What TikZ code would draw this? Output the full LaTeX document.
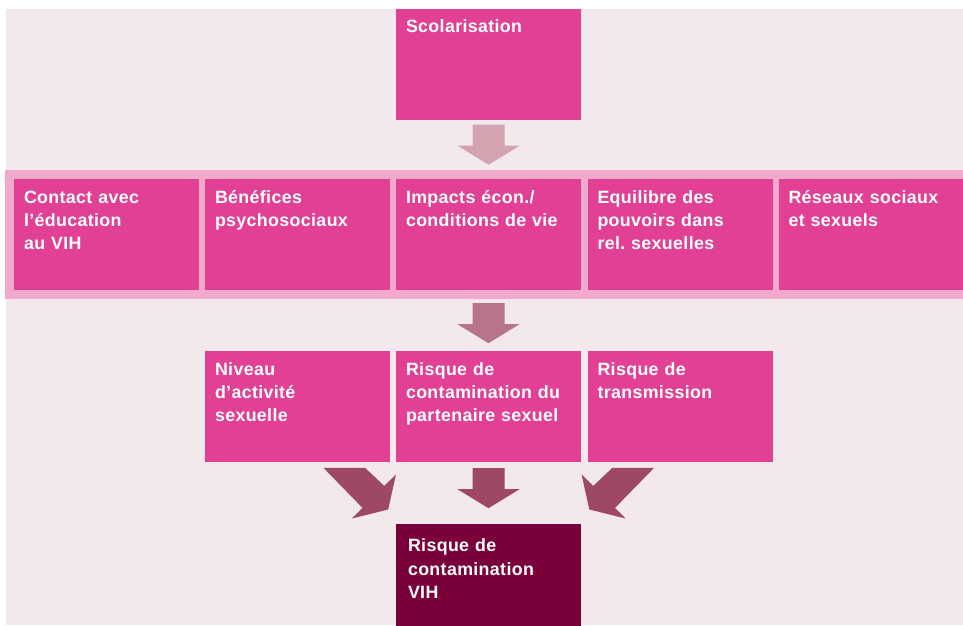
\documentclass[tikz,border=0pt]{standalone}
\usepackage{fontspec}
\setmainfont{Liberation Sans}[LetterSpace=2]
\usetikzlibrary{positioning}
\definecolor{bgrose}{RGB}{243,232,235}
\definecolor{bandrose}{RGB}{241,170,203}
\definecolor{boxrose}{RGB}{226,64,148}
\definecolor{arrowA}{RGB}{212,163,176}
\definecolor{arrowB}{RGB}{184,116,138}
\definecolor{arrowC}{RGB}{158,71,102}
\definecolor{vihred}{RGB}{122,0,58}
\frenchspacing
\tikzstyle{block} = [rectangle, fill=boxrose, text=white, text width=165pt,
    inner xsep=10pt, inner ysep=0pt, text height=24pt, text depth=87pt,
    align=left, font=\fontsize{17.8}{23.3}\selectfont\bfseries]
\newcommand{\downarrowat}[3]{%
  \fill[#1, shift={(#2)}, shift={(0,#3)}] (-16,0) -- (16,0) -- (16,21) -- (31,21)
    -- (0,40) -- (-31,21) -- (-16,21) -- cycle;}
\newcommand{\slantarrow}[3]{%
  \fill[#1, shift={(#2)}, xscale=#3] (-66.7,5.7) -- (-25,5.7) -- (-6,23.7) -- (5.7,12.3)
    -- (-2,47.3) -- (-38.3,56.3) -- (-27.7,45.7) -- cycle;}

\begin{document}
\begin{tikzpicture}[x=1pt, y=-1pt]
		\useasboundingbox (0,0) rectangle (963,625);
		\fill[bgrose] (6,9) rectangle (963,625);
		\fill[bandrose] (5,170) rectangle (964,299);

		\node [block] (scol) at (488.5,64) {Scolarisation};
		\node [block, node distance=170.5pt, below of=scol] (impacts) {Impacts écon./\\conditions de vie};
		\node [block, node distance=191pt, left of=impacts] (benef) {Bénéfices\\psychosociaux};
		\node [block, node distance=191pt, left of=benef] (contact) {Contact avec\\l’éducation\\au VIH};
		\node [block, node distance=191.5pt, right of=impacts] (pouvoirs) {Equilibre des\\pouvoirs dans\\rel. sexuelles};
		\node [block, node distance=191pt, right of=pouvoirs] (reseaux) {Réseaux sociaux\\et sexuels};
		\node [block, node distance=172pt, below of=impacts] (partenaire) {Risque de\\contamination du\\partenaire sexuel};
		\node [block, node distance=191pt, left of=partenaire] (niveau) {Niveau\\d’activité\\sexuelle};
		\node [block, node distance=191.5pt, right of=partenaire] (transm) {Risque de\\transmission};
		\node [block, fill=vihred, inner xsep=12pt, text width=161pt, text height=27.7pt,
			text depth=83.3pt, node distance=173pt, below of=partenaire] (vih) {Risque de\\contamination\\VIH};

		\downarrowat{arrowA}{scol.south}{5}
		\downarrowat{arrowB}{impacts.south}{13}
		\downarrowat{arrowC}{partenaire.south}{6}
		\slantarrow{arrowC}{niveau.south east}{1}
		\slantarrow{arrowC}{transm.south west}{-1}
	\end{tikzpicture}
\end{document}
